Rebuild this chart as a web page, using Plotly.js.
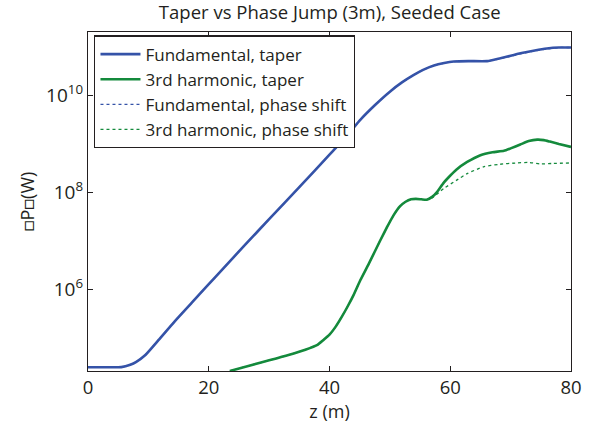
<!DOCTYPE html>
<html>
<head>
<meta charset="utf-8">
<script src="https://cdn.plot.ly/plotly-3.0.1.min.js"></script>
<style>html,body{margin:0;padding:0;background:#fff;}#chart{width:591px;height:428px;}</style>
</head>
<body>
<div id="chart"></div>
<script>
// Fundamental, taper (z in m, log10 power in W)
const fundZ = [0, 3, 5.5, 7, 8, 9.5, 11.7, 14.4, 17.2, 20, 22, 26, 30, 35, 40, 43, 45.1, 47.5, 50, 52, 53.9, 55.5, 57.3, 59, 60.6, 63, 66.1, 68.3, 70, 71.6, 74, 76, 78, 80];
const fundLog = [4.386, 4.386, 4.39, 4.44, 4.50, 4.64, 4.95, 5.34, 5.72, 6.10, 6.37, 6.91, 7.44, 8.10, 8.77, 9.18, 9.49, 9.79, 10.07, 10.26, 10.41, 10.52, 10.61, 10.66, 10.69, 10.70, 10.70, 10.76, 10.81, 10.86, 10.92, 10.96, 10.98, 10.98];
// 3rd harmonic, taper
const harmZ = [23.5, 27, 30, 33.2, 36, 38, 39, 40, 41, 42, 43, 44, 45.1, 46.5, 48.4, 49.5, 50.6, 51.7, 52.6, 53.5, 54.3, 55.2, 56.1, 57, 57.8, 58.9, 59.7, 61, 62.8, 65, 67, 68.9, 70, 71.6, 73, 74.4, 75.5, 76.5, 78, 80];
const harmLog = [4.31, 4.43, 4.53, 4.64, 4.75, 4.85, 4.95, 5.06, 5.22, 5.42, 5.64, 5.88, 6.18, 6.52, 7.0, 7.27, 7.52, 7.71, 7.80, 7.85, 7.86, 7.85, 7.84, 7.90, 8.0, 8.19, 8.30, 8.46, 8.62, 8.76, 8.82, 8.85, 8.90, 8.98, 9.05, 9.08, 9.07, 9.04, 8.99, 8.93];
// Fundamental, phase shift
const fundPsZ = [0, 3, 5.5, 7, 8, 9.5, 11.7, 14.4, 17.2, 20, 22, 26, 30, 35, 40, 43, 45.1, 47.5, 50, 52, 53.9, 55.5, 57.3, 59, 60.6, 63, 66.1, 68.3, 70, 71.6, 74, 76, 78, 80];
const fundPsLog = [4.386, 4.386, 4.39, 4.44, 4.50, 4.64, 4.95, 5.34, 5.72, 6.10, 6.37, 6.91, 7.44, 8.10, 8.77, 9.18, 9.49, 9.79, 10.07, 10.26, 10.41, 10.52, 10.61, 10.66, 10.69, 10.70, 10.70, 10.75, 10.80, 10.85, 10.91, 10.95, 10.98, 10.98];
// 3rd harmonic, phase shift
const harmPsZ = [23.5, 27, 30, 33.2, 36, 38, 39, 40, 41, 42, 43, 44, 45.1, 46.5, 48.4, 49.5, 50.6, 51.7, 52.6, 53.5, 54.3, 55.2, 56.1, 57, 58.9, 61, 62.8, 65.5, 68, 71, 73, 74.9, 77, 80];
const harmPsLog = [4.31, 4.43, 4.53, 4.64, 4.75, 4.85, 4.95, 5.06, 5.22, 5.42, 5.64, 5.88, 6.18, 6.52, 7.0, 7.27, 7.52, 7.71, 7.80, 7.85, 7.86, 7.85, 7.84, 7.88, 8.07, 8.24, 8.38, 8.52, 8.57, 8.60, 8.61, 8.58, 8.59, 8.60];

const xTicks = [0, 20, 40, 60, 80];
const yTicks = [1e6, 1e8, 1e10];
const yTickText = ['10<sup>6</sup>', '10<sup>8</sup>', '10<sup>10</sup>'];
const names = ['Fundamental, taper', '3rd harmonic, taper', 'Fundamental, phase shift', '3rd harmonic, phase shift'];

const pow = a => a.map(v => Math.pow(10, v));
const blue = '#3553a8', green = '#148a3c';

const traces = [
  {x: fundZ, y: pow(fundLog), name: names[0], mode: 'lines', line: {color: blue, width: 2.6, shape: 'spline', smoothing: 0.5}},
  {x: harmZ, y: pow(harmLog), name: names[1], mode: 'lines', line: {color: green, width: 2.6, shape: 'spline', smoothing: 0.5}},
  {x: fundPsZ, y: pow(fundPsLog), name: names[2], mode: 'lines', line: {color: blue, width: 1.3, dash: 'dot', shape: 'spline', smoothing: 0.5}},
  {x: harmPsZ, y: pow(harmPsLog), name: names[3], mode: 'lines', line: {color: green, width: 1.3, dash: 'dot', shape: 'spline', smoothing: 0.5}}
];

const font = 'Open Sans, Lato, sans-serif';
const layout = {
  width: 591, height: 428,
  margin: {l: 88, r: 20, t: 32, b: 57},
  paper_bgcolor: '#fff', plot_bgcolor: '#fff',
  font: {family: font, color: '#231f20', size: 18},
  title: {text: 'Taper vs Phase Jump (3m), Seeded Case', font: {family: font, size: 18.5, color: '#231f20'}, x: 0.558, xanchor: 'center', y: 0.970, yanchor: 'middle'},
  xaxis: {
    range: [0, 80], tickvals: xTicks, ticktext: xTicks.map(String),
    ticks: 'inside', ticklen: 5, tickcolor: '#231f20', showline: true, linecolor: '#231f20', linewidth: 1.2,
    mirror: 'ticks', showgrid: false, zeroline: false,
    tickfont: {size: 18.5}, title: {text: 'z (m)', font: {size: 18}, standoff: 0}
  },
  yaxis: {
    type: 'log', range: [4.31, 11.30], tickvals: yTicks, ticktext: yTickText,
    ticks: 'inside', ticklen: 5, tickcolor: '#231f20', showline: true, linecolor: '#231f20', linewidth: 1.2,
    mirror: 'ticks', showgrid: false, zeroline: false,
    tickfont: {size: 19}, title: {text: '\u25A1P\u25A1(W)', font: {size: 18}, standoff: 6}
  },
  legend: {
    x: 0.013, y: 0.99, xanchor: 'left', yanchor: 'top',
    bordercolor: '#231f20', borderwidth: 1.2, bgcolor: '#fff',
    font: {size: 17, family: font}, tracegroupgap: 0, itemwidth: 40
  },
  showlegend: true
};

Plotly.newPlot('chart', traces, layout, {displayModeBar: false, staticPlot: true});
</script>
</body>
</html>
